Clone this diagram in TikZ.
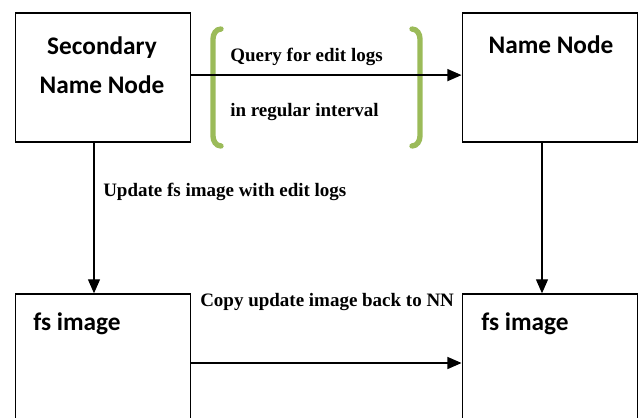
\documentclass[tikz,border=0pt]{standalone}
\usepackage{fontspec}
\setmainfont{Liberation Serif}
\newfontfamily\boxfont{Carlito}
\usetikzlibrary{positioning, shapes, arrows, arrows.meta}
\definecolor{bracegreen}{RGB}{155,187,89}
\tikzstyle{arrow} = [line width=1pt,-{Triangle[length=10pt,width=8.5pt]}]
\tikzstyle{block} = [draw, line width=0.9pt, fill=white, rectangle, inner sep=0pt,
    minimum width=4.39cm, minimum height=3.225cm]
\tikzstyle{heading} = [font=\boxfont\bfseries\fontsize{18}{28}\selectfont, align=center, inner sep=0pt]
\tikzstyle{note} = [font=\bfseries\fontsize{13.5}{16}\selectfont, inner sep=0pt]
\tikzstyle{brace} = [bracegreen, line width=3.8pt, line cap=round]

\begin{document}
\begin{tikzpicture}[x=0.025cm, y=-0.025cm]
    \path [use as bounding box, clip] (0,0) rectangle (640,417);
    % boxes
    \node [block] (snn) at (103,77.5) {};
    \node [block] (nn) at (550,77.5) {};
    \node [block, minimum height=3.5cm] (fsone) at (103,364) {};
    \node [block, minimum height=3.5cm] (fstwo) at (550,364) {};
    % box texts
    \node [heading] (snntext) at (102,65) {Secondary\\Name Node};
    \node [heading] (nntext) at (551,45) {Name Node};
    \node [heading, anchor=west] (fsonetext) at (33,324) {fs image};
    \node [heading, anchor=west] (fstwotext) at (481,324) {fs image};
    % green brackets
    \draw [brace] (221,29) to[out=180, in=90] (213,39) -- (213,136) to[out=-90, in=180] (221,146);
    \draw [brace] (412,29) to[out=0, in=90] (420,39) -- (420,136) to[out=-90, in=0] (412,146);
    % labels
    \node [note, anchor=west] (query) at (230,57) {Query for edit logs};
    \node [note, anchor=west] (interval) at (230,112) {in regular interval};
    \node [note, anchor=west] (update) at (103,192) {Update fs image with edit logs};
    \node [note, anchor=west] (copy) at (200,302) {Copy update image back to NN};
    % arrows
    \draw [arrow] ([yshift=0.06cm]snn.east) -- ([yshift=0.06cm]nn.west);
    \draw [arrow] ([xshift=-0.225cm]snn.south) -- ([xshift=-0.225cm]fsone.north);
    \draw [arrow] ([xshift=-0.2cm]nn.south) -- ([xshift=-0.2cm]fstwo.north);
    \draw [arrow] ([yshift=0.025cm]fsone.east) -- ([yshift=0.025cm]fstwo.west);
\end{tikzpicture}
\end{document}
